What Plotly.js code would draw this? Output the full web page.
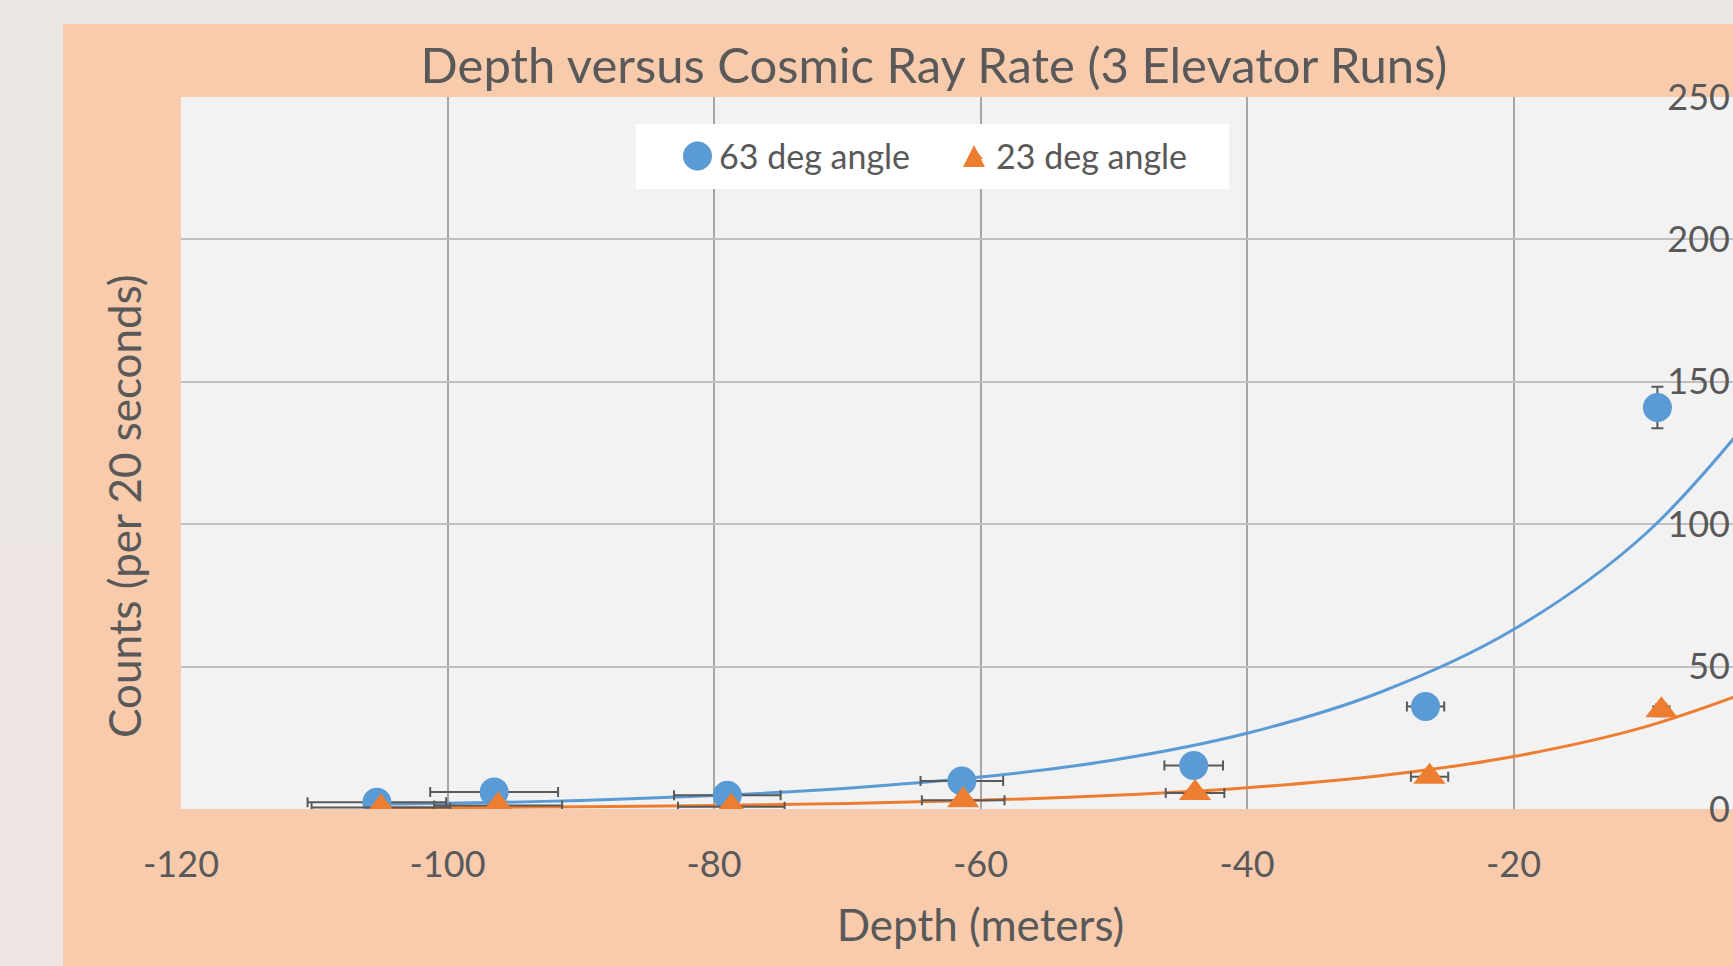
<!DOCTYPE html>
<html><head><meta charset="utf-8">
<script src="https://cdn.plot.ly/plotly-3.0.1.min.js"></script>
<style>
html,body{margin:0;padding:0;width:1733px;height:966px;overflow:hidden;background:#EBE6E3;}
#strip{position:absolute;left:0;top:547px;width:63px;height:419px;background:#EEE6E2;}
#chart{position:absolute;left:63px;top:24px;width:1800px;height:942px;}
</style></head><body>
<div id="strip"></div>
<div id="chart"></div>
<script>
// ---- data ----
const seriesNames = ['63 deg angle', '23 deg angle'];
const depth63  = [-105.3, -96.5, -79.0, -61.4, -44.0, -26.6, -9.2];
const counts63 = [2.4, 6.0, 4.8, 9.8, 15.3, 36.0, 141.0];
const xErr63   = [5.2, 4.8, 4.0, 3.1, 2.2, 1.4, 0.6];
const yErr63   = [0.8, 1.2, 1.0, 1.6, 2.0, 3.0, 7.3];
const depth23  = [-105.0, -96.2, -78.7, -61.3, -43.9, -26.3, -8.9];
const counts23 = [0.5, 1.2, 0.8, 3.1, 5.6, 11.3, 34.7];
const xErr23   = [5.2, 4.8, 4.0, 3.1, 2.2, 1.4, 0.6];
const yErr23   = [0.3, 0.5, 0.4, 0.8, 1.0, 1.2, 2.1];
// exponential trendlines, values
const trendDepth = [-105, -100, -90, -80, -70, -60, -50, -40, -30, -20, -10, 0];
const trend63    = [1.7, 2.0, 3.0, 4.7, 7.3, 11.2, 17.2, 26.6, 41, 63, 97, 150];
const trend23    = [0.4, 0.5, 0.8, 1.25, 1.95, 3.05, 4.8, 7.5, 11.7, 18.4, 29, 45.3];
const xTickVals = [-120, -100, -80, -60, -40, -20];
const xTickText = ['-120', '-100', '-80', '-60', '-40', '-20'];
const yTickVals = [0, 50, 100, 150, 200, 250];
const yTickText = ['0', '50', '100', '150', '200', '250'];
const chartTitle = 'Depth versus Cosmic Ray Rate (3 Elevator Runs)';
const xTitle = 'Depth (meters)';
const yTitle = 'Counts (per 20 seconds)';

const BLUE = '#5B9BD5', ORANGE = '#ED7D31', TXT = '#595959', ERR = '#595959';

const traces = [
  {x: trendDepth, y: trend63, mode: 'lines', line: {color: BLUE, width: 3, shape: 'spline'}, showlegend: false, hoverinfo: 'skip'},
  {x: trendDepth, y: trend23, mode: 'lines', line: {color: ORANGE, width: 3, shape: 'spline'}, showlegend: false, hoverinfo: 'skip'},
  {x: depth63, y: counts63, name: seriesNames[0], mode: 'markers',
   marker: {symbol: 'circle', size: 29, color: BLUE},
   error_x: {type: 'data', array: xErr63, color: ERR, thickness: 2, width: 5},
   error_y: {type: 'data', array: yErr63, color: ERR, thickness: 2, width: 6}},
  {x: depth23, y: counts23, name: seriesNames[1], mode: 'markers',
   marker: {symbol: 'triangle-up', size: 28, color: ORANGE},
   error_x: {type: 'data', array: xErr23, color: ERR, thickness: 2, width: 5},
   error_y: {type: 'data', array: yErr23, color: ERR, thickness: 2, width: 6}}
];

const W = 1800, H = 942;
const M = {l: 118, r: 83, t: 73, b: 157};
const pw = W - M.l - M.r, ph = H - M.t - M.b;
// helpers: page pixel -> paper fraction (chart div is offset 63,24)
const px = v => (v - 63 - M.l) / pw;
const py = v => (H - M.b - (v - 24)) / ph;

// enlarged legend symbols drawn over the (size-capped) native legend symbols
const legCirc = {cx: 697.5, cy: 156, r: 14.5};
const legTri = {cx: 974, top: 145, bottom: 167, half: 11};

const layout = {
  width: W, height: H,
  paper_bgcolor: '#F8CBAD', plot_bgcolor: '#F2F2F2',
  margin: {l: M.l, r: M.r, t: M.t, b: M.b, pad: 0},
  font: {family: 'Lato, sans-serif', color: TXT},
  title: {text: chartTitle, font: {size: 49, color: TXT, family: 'Lato, sans-serif'},
          xref: 'container', x: (934 - 63) / W, xanchor: 'center',
          yref: 'container', y: 1 - 41.5 / H, yanchor: 'middle'},
  xaxis: {range: [-120, 0], tickmode: 'array', tickvals: xTickVals, ticktext: xTickText,
          showgrid: true, gridcolor: '#A6A6A6', gridwidth: 2, zeroline: false, showline: false,
          ticks: '', tickfont: {size: 36, color: TXT}, ticklabelstandoff: 31,
          title: {text: xTitle, font: {size: 44, color: TXT}, standoff: 26},
          automargin: false, fixedrange: true},
  yaxis: {range: [0, 250], side: 'right', tickmode: 'array', tickvals: yTickVals, ticktext: yTickText,
          ticklabelposition: 'inside', ticklabelstandoff: 47, ticklabeloverflow: 'allow',
          showgrid: true, gridcolor: '#BFBFBF', gridwidth: 2, zeroline: false, showline: false,
          ticks: '', tickfont: {size: 36, color: TXT}, automargin: false, fixedrange: true},
  showlegend: true,
  legend: {orientation: 'h', x: px(679), y: py(156.5), xanchor: 'left', yanchor: 'middle',
           bgcolor: 'rgba(0,0,0,0)', font: {size: 34, color: TXT}, entrywidth: 232,
           itemsizing: 'constant'},
  shapes: [
    {type: 'rect', xref: 'paper', yref: 'paper', x0: px(636), x1: px(1229), y0: py(189), y1: py(124),
     fillcolor: '#FFFFFF', line: {width: 0}, layer: 'above'},
    {type: 'circle', xref: 'paper', yref: 'paper',
     x0: px(legCirc.cx - legCirc.r), x1: px(legCirc.cx + legCirc.r),
     y0: py(legCirc.cy + legCirc.r), y1: py(legCirc.cy - legCirc.r),
     fillcolor: BLUE, line: {width: 0}, layer: 'above'},
    {type: 'path', xref: 'paper', yref: 'paper',
     path: 'M ' + px(legTri.cx - legTri.half) + ' ' + py(legTri.bottom) +
           ' L ' + px(legTri.cx + legTri.half) + ' ' + py(legTri.bottom) +
           ' L ' + px(legTri.cx) + ' ' + py(legTri.top) + ' Z',
     fillcolor: ORANGE, line: {width: 0}, layer: 'above'}
  ],
  annotations: [{text: yTitle, xref: 'paper', yref: 'paper', x: px(124), y: py(506),
                 xanchor: 'center', yanchor: 'middle', textangle: -90, showarrow: false,
                 font: {size: 44, color: TXT}}]
};

Plotly.newPlot('chart', traces, layout, {displayModeBar: false, staticPlot: true});
</script>
</body></html>
